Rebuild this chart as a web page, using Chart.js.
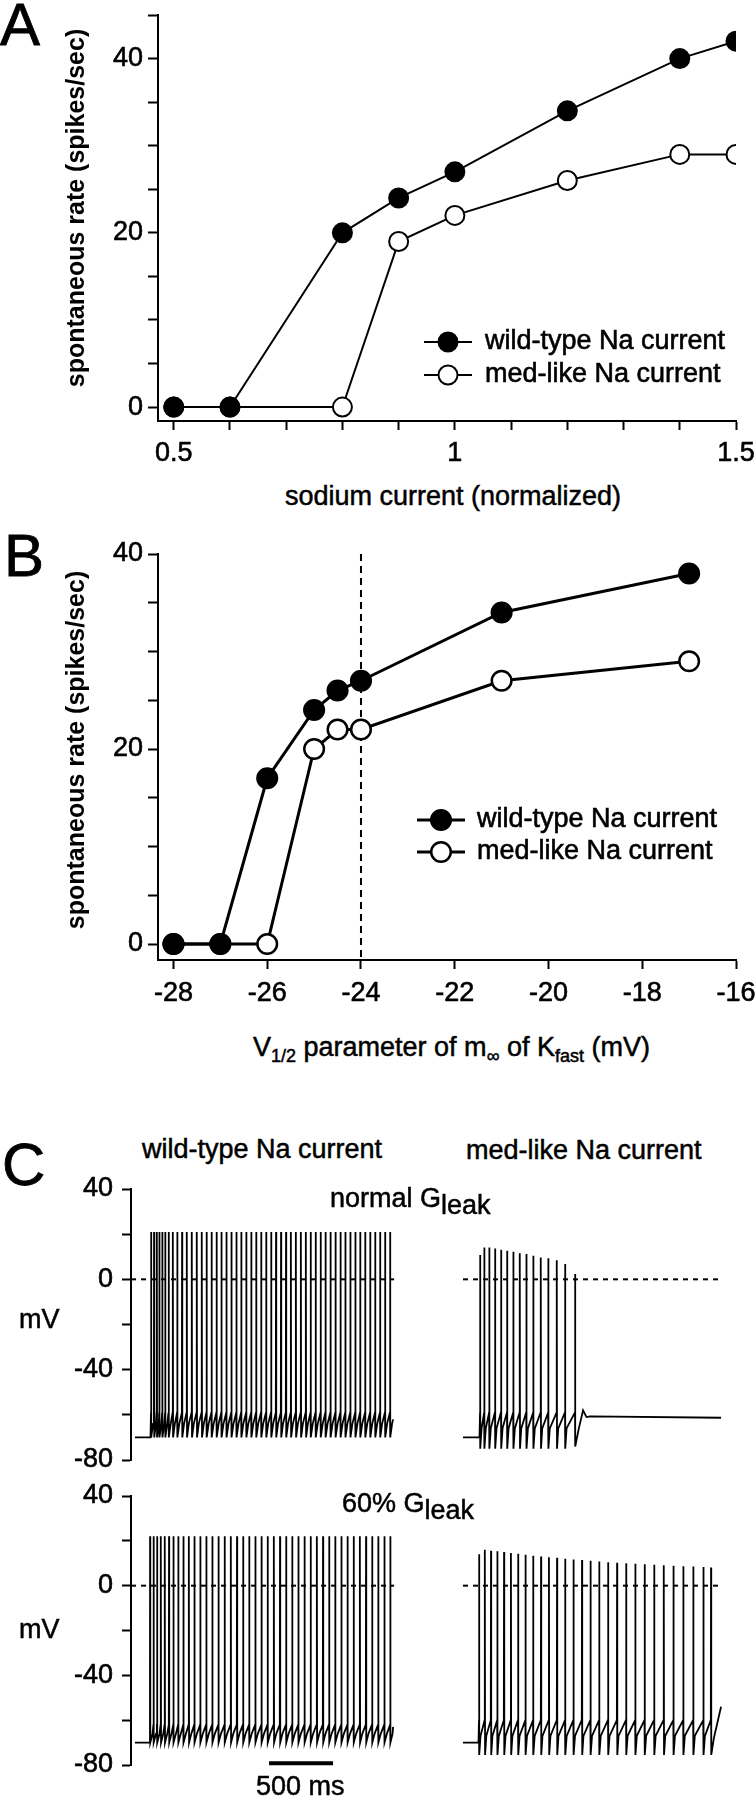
<!DOCTYPE html>
<html>
<head>
<meta charset="utf-8">
<script src="https://cdn.jsdelivr.net/npm/chart.js@4.4.1/dist/chart.umd.min.js"></script>
<style>
html,body{margin:0;padding:0;background:#fff;}
body{position:relative;width:756px;height:1800px;overflow:hidden;font-family:"Liberation Sans",Arial,Helvetica,sans-serif;color:#000;}
canvas{position:absolute;}
.t{position:absolute;white-space:nowrap;line-height:1;font-size:27px;-webkit-text-stroke:0.5px #000;}
.big{font-size:60px;-webkit-text-stroke:0.8px #000;}
.sub{font-size:18px;position:relative;top:6px;}
.gsub{position:relative;top:7px;}
.ytitle{position:absolute;white-space:nowrap;font-size:25px;font-weight:bold;line-height:1;transform:translate(-50%,-50%) rotate(-90deg);}
</style>
</head>
<body>
<script>
// ---------------- DATA ----------------
// Panel A
const A_X = [0.5, 0.6, 0.8, 0.9, 1.0, 1.2, 1.4, 1.5];
const A_WILD = [0, 0, 20, 24, 27, 34, 40, 42];
const A_MED = [0, 0, 0, 19, 22, 26, 29, 29];
const A_X_TICKS = [0.5, 0.6, 0.7, 0.8, 0.9, 1.0, 1.1, 1.2, 1.3, 1.4, 1.5];
const A_X_LABELS = [0.5, 1, 1.5];
const A_Y_TICKS = [0, 5, 10, 15, 20, 25, 30, 35, 40, 45];
const A_Y_LABELS = [0, 20, 40];

// Panel B
const B_X = [-28, -27, -26, -25, -24.5, -24, -21, -17];
const B_WILD = [0, 0, 17, 24, 26, 27, 34, 38];
const B_MED = [0, 0, 0, 20, 22, 22, 27, 29];
const B_REF_X = -24;
const B_X_TICKS = [-28, -26, -24, -22, -20, -18, -16];
const B_X_LABELS = [-28, -26, -24, -22, -20, -18, -16];
const B_Y_TICKS = [0, 5, 10, 15, 20, 25, 30, 35, 40];
const B_Y_LABELS = [0, 20, 40];

const SERIES_NAMES = ['wild-type Na current', 'med-like Na current'];

// Panel C (time in ms, voltage in mV)
const C_Y_TICKS = [-80, -60, -40, -20, 0, 20, 40];
const C_Y_LABELS = [-80, -40, 0, 40];
const C_END_T = 2016;

// wild-type, normal Gleak
const TL_SPIKE_T = [125, 148, 170, 190, 213, 236, 263, 295, 330, 367, 404, 443, 482, 521, 559, 598, 637, 675, 714, 753, 792, 830, 869, 908, 946, 985, 1024, 1063, 1101, 1140, 1179, 1217, 1256, 1295, 1334, 1372, 1411, 1450, 1488, 1527, 1566, 1605, 1643, 1682, 1721, 1759, 1798, 1837, 1876, 1914, 1953, 1992];
const TL_PEAK = 21;
// wild-type, 60% Gleak
const BL_SPIKE_T = [117, 145, 172, 201, 232, 265, 300, 338, 378, 420, 464, 510, 557, 604, 652, 700, 748, 796, 844, 892, 940, 988, 1036, 1084, 1132, 1180, 1228, 1276, 1324, 1372, 1420, 1468, 1516, 1564, 1612, 1660, 1708, 1756, 1804, 1852, 1900, 1948, 1994];
const BL_PEAK = 22;
// med-like, normal Gleak
const TR_SPIKE_T = [133, 166, 205, 250, 297, 344, 393, 443, 495, 549, 607, 666, 732, 797, 875];
const TR_PEAK = [10.8, 14.1, 14.1, 13.7, 13.1, 12.7, 12.2, 11.6, 11.2, 10.4, 9.7, 9.3, 8.4, 6.8, 2.4];
const TR_TROUGH = [-75, -75, -75, -75, -75, -75, -75, -75, -75, -75, -75, -75, -75, -75, -74];
const TR_TAIL_T = [905, 938, 965, 992, 2016];
const TR_TAIL_V = [-66, -58, -61, -60.7, -61.3];
// med-like, 60% Gleak
const BR_SPIKE_T = [125, 170, 218, 268, 320, 374, 430, 488, 548, 609, 671, 734, 798, 863, 929, 996, 1064, 1133, 1203, 1274, 1346, 1419, 1493, 1568, 1644, 1721, 1799, 1878, 1937];
const BR_PEAK = [14, 16, 15.6, 15.3, 15, 14.6, 14.2, 13.8, 13.4, 13, 12.7, 12.4, 12, 11.7, 11.4, 11.1, 10.8, 10.5, 10.2, 10, 9.8, 9.6, 9.3, 9.1, 8.9, 8.7, 8.5, 8.3, 8.1];
const BR_TAIL_T = [1960, 2016];
const BR_TAIL_V = [-68, -54];

const SCALE_BAR_T = [1047, 1547];
const SCALE_BAR_V = -79.2;

// ---------------- HELPERS ----------------
Chart.defaults.font.family = '"Liberation Sans", Arial, Helvetica, sans-serif';
Chart.defaults.font.size = 27;
Chart.defaults.color = '#000';
Chart.defaults.animation = false;

function makeCanvas(left, top, w, h) {
  const c = document.createElement('canvas');
  c.width = w; c.height = h;
  c.style.left = left + 'px'; c.style.top = top + 'px';
  c.style.width = w + 'px'; c.style.height = h + 'px';
  document.body.appendChild(c);
  return c;
}
function labelFor(v, labels) {
  const hit = labels.find(l => Math.abs(l - v) < 1e-6);
  return hit === undefined ? '' : String(hit);
}
const tickText = { autoSkip: false, color: '#000', textStrokeColor: '#000', textStrokeWidth: 0.6 };
function yAxis(min, max, ticks, labels, width, pad, tl, display = true) {
  return {
    type: 'linear', min, max, display,
    afterBuildTicks: s => { s.ticks = ticks.map(v => ({ value: v })); },
    afterFit: s => { s.width = width; s.paddingTop = 0; s.paddingBottom = 0; },
    ticks: Object.assign({ padding: pad, callback: v => labelFor(v, labels) }, tickText),
    grid: { drawOnChartArea: false, drawTicks: true, tickLength: tl, tickWidth: 2, tickColor: '#000' },
    border: { display: true, color: '#000', width: 2 }
  };
}
function xAxis(min, max, ticks, labels, height, pad, tl) {
  return {
    type: 'linear', min, max,
    afterBuildTicks: s => { s.ticks = ticks.map(v => ({ value: v })); },
    afterFit: s => { s.height = height; s.paddingLeft = 0; s.paddingRight = 0; },
    ticks: Object.assign({ maxRotation: 0, padding: pad, callback: v => labelFor(v, labels) }, tickText),
    grid: { drawOnChartArea: false, drawTicks: true, tickLength: tl, tickWidth: 2, tickColor: '#000' },
    border: { display: true, color: '#000', width: 2 }
  };
}
const inlineLegend = {
  id: 'inlineLegend',
  afterDatasetsDraw(chart, args, o) {
    if (!o || !o.items) return;
    const ctx = chart.ctx;
    o.items.forEach((idx, i) => {
      const ds = chart.data.datasets[idx];
      const y = o.y + i * o.gap;
      ctx.save();
      ctx.strokeStyle = '#000';
      ctx.lineWidth = ds.borderWidth;
      ctx.beginPath(); ctx.moveTo(o.x0, y); ctx.lineTo(o.x1, y); ctx.stroke();
      ctx.beginPath(); ctx.arc((o.x0 + o.x1) / 2, y, ds.pointRadius, 0, Math.PI * 2);
      ctx.fillStyle = ds.pointBackgroundColor; ctx.fill();
      ctx.lineWidth = ds.pointBorderWidth; ctx.stroke();
      ctx.fillStyle = '#000';
      ctx.font = '27px "Liberation Sans", Arial, Helvetica, sans-serif';
      ctx.textBaseline = 'middle'; ctx.textAlign = 'left';
      ctx.fillText(ds.label, o.tx, y);
      ctx.lineWidth = 0.6; ctx.strokeText(ds.label, o.tx, y);
      ctx.restore();
    });
  }
};
function series(label, xs, ys, filled, lw, r) {
  return {
    label, data: xs.map((x, i) => ({ x, y: ys[i] })), showLine: true,
    borderColor: '#000', borderWidth: lw, pointRadius: r, pointBorderWidth: lw === 2 ? 2 : 2.5,
    pointBackgroundColor: filled ? '#000' : '#fff', pointBorderColor: '#000', tension: 0
  };
}
function buildTrace(rest, spikeT, peak, trough, pre, recDt, rec, tailT, tailV) {
  const pts = [{ x: 0, y: rest }, { x: spikeT[0] - 4, y: rest }];
  for (let i = 0; i < spikeT.length; i++) {
    const t = spikeT[i];
    const pk = Array.isArray(peak) ? peak[i] : peak;
    const tr = Array.isArray(trough) ? trough[i] : trough;
    pts.push({ x: t, y: pre }, { x: t + 0.8, y: pk }, { x: t + 2.4, y: tr });
    if (i < spikeT.length - 1) {
      const nt = spikeT[i + 1];
      pts.push({ x: Math.min(t + recDt, nt - 3), y: rec }, { x: nt - 1, y: pre });
    }
  }
  tailT.forEach((t, i) => pts.push({ x: t, y: tailV[i] }));
  return pts;
}
function lineDs(data, lw, dash) {
  return { data, showLine: true, borderColor: '#000', borderWidth: lw, pointRadius: 0, tension: 0, borderDash: dash || [] };
}
const common = { responsive: false, devicePixelRatio: 1, events: [], animation: false };

// ---------------- PANEL A ----------------
new Chart(makeCanvas(0, 0, 756, 480), {
  type: 'scatter',
  data: { datasets: [
    series(SERIES_NAMES[0], A_X, A_WILD, true, 2, 9.5),
    series(SERIES_NAMES[1], A_X, A_MED, false, 2, 9.5)
  ] },
  options: Object.assign({}, common, {
    layout: { padding: { left: 0, right: 20, top: 15, bottom: 0 } },
    scales: {
      x: xAxis(0.472, 1.5, A_X_TICKS, A_X_LABELS, 59, 7, 9),
      y: yAxis(-1.6, 45, A_Y_TICKS, A_Y_LABELS, 158, 5, 10)
    },
    plugins: { legend: { display: false }, tooltip: { enabled: false },
      inlineLegend: { items: [0, 1], x0: 424, x1: 472, tx: 485, y: 342, gap: 33 } }
  }),
  plugins: [inlineLegend]
});

// ---------------- PANEL B ----------------
new Chart(makeCanvas(0, 530, 756, 480), {
  type: 'scatter',
  data: { datasets: [
    series(SERIES_NAMES[0], B_X, B_WILD, true, 3, 9.8),
    series(SERIES_NAMES[1], B_X, B_MED, false, 3, 9.8),
    lineDs([{ x: B_REF_X, y: 40 }, { x: B_REF_X, y: -1.64 }], 2, [7, 5])
  ] },
  options: Object.assign({}, common, {
    layout: { padding: { left: 0, right: 20, top: 24, bottom: 0 } },
    scales: {
      x: xAxis(-28.33, -16, B_X_TICKS, B_X_LABELS, 50, 8, 9),
      y: yAxis(-1.64, 40, B_Y_TICKS, B_Y_LABELS, 158, 5, 10)
    },
    plugins: { legend: { display: false }, tooltip: { enabled: false },
      inlineLegend: { items: [0, 1], x0: 417, x1: 465, tx: 477, y: 290, gap: 32 } }
  }),
  plugins: [inlineLegend]
});

// ---------------- PANEL C ----------------
function traceChart(left, top, w, h, pad, showY, xmin, xmax, datasets) {
  new Chart(makeCanvas(left, top, w, h), {
    type: 'scatter',
    data: { datasets },
    options: Object.assign({}, common, {
      layout: { padding: pad },
      scales: {
        x: { type: 'linear', min: xmin, max: xmax, display: false },
        y: yAxis(-80, 40, C_Y_TICKS, C_Y_LABELS, showY ? 131 : 0, 9, 9, showY)
      },
      plugins: { legend: { display: false }, tooltip: { enabled: false } }
    })
  });
}
const zeroLeft = () => lineDs([{ x: -31, y: 0 }, { x: 2024, y: 0 }], 2, [5, 5]);
const zeroRight = () => lineDs([{ x: 0, y: 0 }, { x: 2031, y: 0 }], 2, [5, 5]);

traceChart(0, 1170, 410, 300, { left: 0, right: 10, top: 19, bottom: 10 }, true, -31.25, 2070, [
  lineDs(buildTrace(-70, TL_SPIKE_T, TL_PEAK, -70, -59, 16, -64, [2008, C_END_T], [-64, -62]), 1.8),
  zeroLeft()
]);
traceChart(0, 1476, 410, 324, { left: 0, right: 10, top: 20, bottom: 35 }, true, -31.25, 2070, [
  lineDs(buildTrace(-70, BL_SPIKE_T, BL_PEAK, -70, -62, 20, -66, [2012, C_END_T], [-66, -63]), 1.8),
  zeroLeft(),
  Object.assign(lineDs([{ x: SCALE_BAR_T[0], y: SCALE_BAR_V }, { x: SCALE_BAR_T[1], y: SCALE_BAR_V }], 4), { clip: false })
]);
traceChart(440, 1170, 316, 300, { left: 23, right: 21, top: 19, bottom: 10 }, false, 0, 2125, [
  lineDs(buildTrace(-70, TR_SPIKE_T, TR_PEAK, TR_TROUGH, -59, 12, -66, TR_TAIL_T, TR_TAIL_V), 1.8),
  zeroRight()
]);
traceChart(440, 1476, 316, 324, { left: 23, right: 21, top: 20, bottom: 35 }, false, 0, 2125, [
  lineDs(buildTrace(-70, BR_SPIKE_T, BR_PEAK, -75.5, -60, 12, -67, BR_TAIL_T, BR_TAIL_V), 1.8),
  zeroRight()
]);
</script>

<div class="t big" style="left:0;top:-5px">A</div>
<div class="t big" style="left:4px;top:526px">B</div>
<div class="t big" style="left:2px;top:1135px">C</div>

<div class="ytitle" style="left:75px;top:208px">spontaneous rate (spikes/sec)</div>
<div class="ytitle" style="left:75px;top:750px">spontaneous rate (spikes/sec)</div>

<div class="t" style="left:453px;top:483px;transform:translateX(-50%)">sodium current (normalized)</div>
<div class="t" style="left:253px;top:1034px">V<span class="sub">1/2</span> parameter of m<span class="sub">∞</span> of K<span class="sub">fast</span> (mV)</div>

<div class="t" style="left:142px;top:1136px">wild-type Na current</div>
<div class="t" style="left:466px;top:1137px">med-like Na current</div>
<div class="t" style="left:330px;top:1185px">normal G<span class="gsub">leak</span></div>
<div class="t" style="left:342px;top:1490px">60% G<span class="gsub">leak</span></div>
<div class="t" style="left:19px;top:1306px">mV</div>
<div class="t" style="left:19px;top:1616px">mV</div>
<div class="t" style="left:256px;top:1773px">500 ms</div>
</body>
</html>
